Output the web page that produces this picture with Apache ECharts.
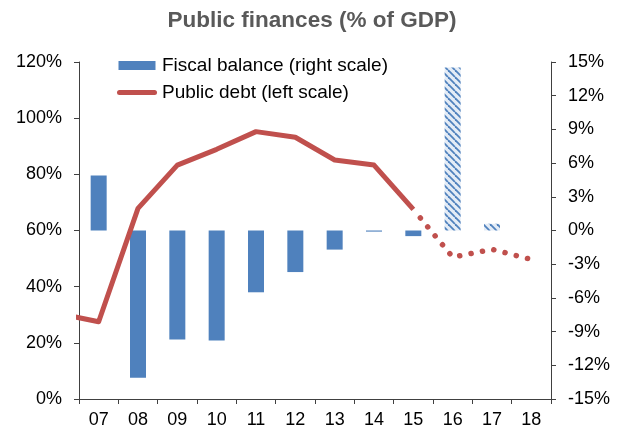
<!DOCTYPE html>
<html>
<head>
<meta charset="utf-8">
<script src="https://cdn.jsdelivr.net/npm/echarts@6/dist/echarts.min.js"></script>
<style>
html,body{margin:0;padding:0;background:#fff;}
#chart{width:624px;height:432px;}
</style>
</head>
<body>
<div id="chart"></div>
<script>
// ---- data ----
const categories = ['07','08','09','10','11','12','13','14','15','16','17','18'];
const fiscalBalance = [4.9, -13.1, -9.7, -9.8, -5.5, -3.7, -1.7, -0.1, -0.5, 14.5, 0.6, null];
const forecastBars = ['16','17','18'];
// public debt, starting one year earlier (06, partly visible at the left edge)
const debtYears = ['06','07','08','09','10','11','12','13','14','15','16','17','18'];
const publicDebt = [30.4, 27.5, 67.9, 83.3, 88.9, 95.2, 93.2, 85.1, 83.3, 67.5, 50.5, 53.3, 49.7];
const lastActualDebtYear = '15';
const leftTicks = [0, 20, 40, 60, 80, 100, 120];
const rightTicks = [-15, -12, -9, -6, -3, 0, 3, 6, 9, 12, 15];

// ---- styles ----
const BLUE = '#4F81BD';
const RED = '#C0504D';
const AXIS = '#404040';
const FONT = '"Liberation Sans", Arial, sans-serif';

function hatch() {
  const s = 7;
  const c = document.createElement('canvas');
  c.width = s; c.height = s;
  const g = c.getContext('2d');
  g.fillStyle = '#E4ECF6';
  g.fillRect(0, 0, s, s);
  g.strokeStyle = BLUE;
  g.lineWidth = 1.8;
  for (const x0 of [-s, 0, s]) {
    g.beginPath();
    g.moveTo(x0, 0);
    g.lineTo(x0 + s, s);
    g.stroke();
  }
  return c;
}
const pattern = { image: hatch(), repeat: 'repeat' };

const barData = fiscalBalance.map((v, i) => forecastBars.includes(categories[i])
  ? { value: v, itemStyle: { color: pattern } }
  : v);

const firstCatIdx = debtYears.indexOf(categories[0]);
const splitIdx = debtYears.indexOf(lastActualDebtYear);
const debtPts = publicDebt.map((v, i) => [i - firstCatIdx, v]);
const solidData = debtPts.slice(0, splitIdx + 1);
const dottedData = debtPts.slice(splitIdx);

const chart = echarts.init(document.getElementById('chart'), null, { renderer: 'canvas' });
chart.setOption({
  animation: false,
  title: {
    text: 'Public finances (% of GDP)',
    left: 'center', top: 9, padding: 0,
    textStyle: { fontFamily: FONT, fontSize: 22.5, fontWeight: 'bold', color: '#595959' }
  },
  legend: {
    orient: 'vertical', left: 117, top: 56, itemGap: 8, padding: 0,
    itemWidth: 40, itemHeight: 9,
    textStyle: { fontFamily: FONT, fontSize: 19, color: '#000' },
    data: [
      { name: 'Fiscal balance (right scale)', icon: 'path://M0,0 H37 V9 H0 Z', itemStyle: { color: BLUE } },
      { name: 'Public debt (left scale)',
        icon: 'path://M2.5,0 H37.5 A2.5,2.5 0 0 1 37.5,5 H2.5 A2.5,2.5 0 0 1 2.5,0 Z',
        itemStyle: { color: RED } }
    ]
  },
  grid: { left: 79, right: 73, top: 62, bottom: 33, containLabel: false },
  xAxis: [
    {
      type: 'category', data: categories, position: 'bottom',
      axisLine: { onZero: false, lineStyle: { color: AXIS, width: 1 } },
      axisTick: { show: true, length: 5, lineStyle: { color: AXIS } },
      axisLabel: { fontFamily: FONT, fontSize: 18, color: '#000', margin: 12 },
      splitLine: { show: false }
    },
    {
      type: 'value', min: -0.5, max: categories.length - 0.5, show: false,
      position: 'bottom', axisLine: { onZero: false }
    }
  ],
  yAxis: [
    {
      type: 'value', min: leftTicks[0], max: leftTicks[leftTicks.length - 1],
      interval: leftTicks[1] - leftTicks[0], position: 'left',
      axisLine: { show: true, onZero: false, lineStyle: { color: AXIS } },
      axisTick: { show: true, length: 5, lineStyle: { color: AXIS } },
      axisLabel: { fontFamily: FONT, fontSize: 18, color: '#000', margin: 17, formatter: '{value}%' },
      splitLine: { show: false }
    },
    {
      type: 'value', min: rightTicks[0], max: rightTicks[rightTicks.length - 1],
      interval: rightTicks[1] - rightTicks[0], position: 'right',
      axisLine: { show: true, onZero: false, lineStyle: { color: AXIS } },
      axisTick: { show: true, length: 5, lineStyle: { color: AXIS } },
      axisLabel: { fontFamily: FONT, fontSize: 18, color: '#000', margin: 17, formatter: '{value}%' },
      splitLine: { show: false }
    }
  ],
  series: [
    {
      name: 'Fiscal balance (right scale)', type: 'bar',
      xAxisIndex: 0, yAxisIndex: 1,
      barWidth: 16, itemStyle: { color: BLUE },
      data: barData
    },
    {
      name: 'Public debt (left scale)', type: 'line',
      xAxisIndex: 1, yAxisIndex: 0, clip: true,
      symbol: 'none', smooth: false,
      lineStyle: { color: RED, width: 5, cap: 'butt', join: 'round' },
      itemStyle: { color: RED },
      data: solidData
    },
    {
      name: 'Public debt forecast', type: 'line',
      xAxisIndex: 1, yAxisIndex: 0, clip: true,
      symbol: 'none', smooth: false,
      lineStyle: { color: RED, width: 5.5, cap: 'round', join: 'round', type: [0.1, 11.5], dashOffset: -11 },
      itemStyle: { color: RED },
      data: dottedData
    }
  ]
});
</script>
</body>
</html>
